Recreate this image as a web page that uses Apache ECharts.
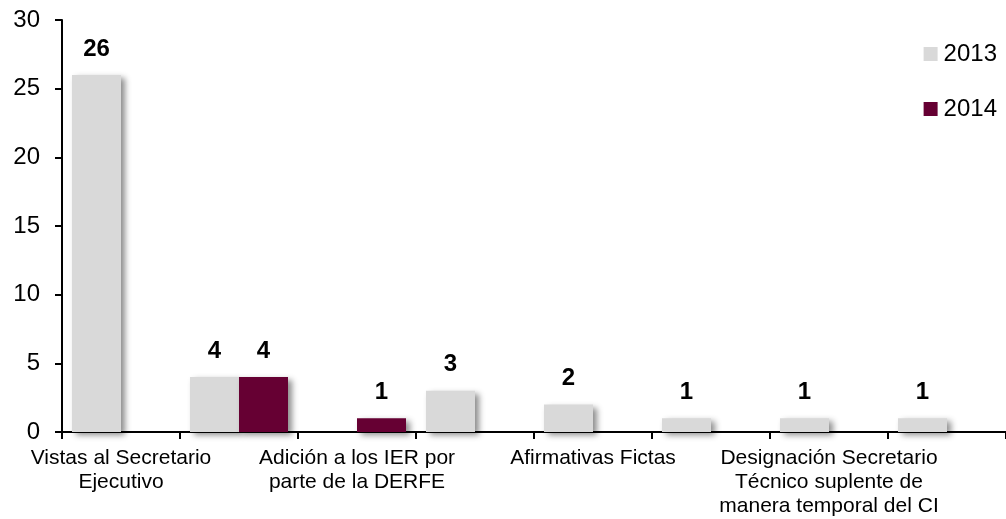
<!DOCTYPE html>
<html>
<head>
<meta charset="utf-8">
<script src="https://cdn.jsdelivr.net/npm/echarts@6/dist/echarts.min.js"></script>
<style>
html,body{margin:0;padding:0;background:#fff;}
#chart{width:1006px;height:519px;}
</style>
</head>
<body>
<div id="chart"></div>
<script>
var categories = [
  'Vistas al Secretario\nEjecutivo',
  '',
  'Adición a los IER por\nparte de la DERFE',
  '',
  'Afirmativas Fictas',
  '',
  'Designación Secretario\nTécnico suplente de\nmanera temporal del CI',
  ''
];
var seriesNames = ['2013', '2014'];
var values2013 = [26, 4, 0, 3, 2, 1, 1, 1];
var values2014 = [0, 4, 1, 0, 0, 0, 0, 0];
var yTicks = [0, 5, 10, 15, 20, 25, 30];

var FONT = 'Liberation Sans, Arial, sans-serif';
var colors = ['#D9D9D9', '#660033'];

function mkSeries(name, data, color) {
  return {
    name: name,
    type: 'bar',
    data: data,
    barWidth: 49,
    barGap: '0%',
    itemStyle: {
      color: color,
      shadowColor: 'rgba(0,0,0,0.45)',
      shadowBlur: 6,
      shadowOffsetX: 4,
      shadowOffsetY: 3
    },
    label: {
      show: true,
      position: 'top',
      distance: 14,
      fontFamily: FONT,
      fontSize: 24,
      fontWeight: 'bold',
      color: '#000',
      formatter: function (p) { return p.value === 0 ? '' : String(p.value); }
    }
  };
}

var chart = echarts.init(document.getElementById('chart'), null, {renderer: 'canvas'});
chart.setOption({
  animation: false,
  backgroundColor: '#fff',
  textStyle: {fontFamily: FONT},
  grid: {left: 62, right: -5, top: 20, bottom: 87, containLabel: false},
  legend: {
    orient: 'vertical',
    right: 4,
    top: 37,
    itemWidth: 14,
    itemHeight: 14,
    itemGap: 31,
    icon: 'rect',
    textStyle: {fontFamily: FONT, fontSize: 24, color: '#000', padding: [0,0,0,1]},
    data: seriesNames
  },
  xAxis: {
    type: 'category',
    data: categories,
    axisLine: {show: true, lineStyle: {color: '#000', width: 2}},
    axisTick: {show: true, interval: 0, length: 7, alignWithLabel: false, lineStyle: {color: '#000', width: 2}},
    axisLabel: {interval: 1, margin: 14, fontFamily: FONT, fontSize: 21, lineHeight: 24, color: '#000'},
    splitLine: {show: false}
  },
  yAxis: {
    type: 'value',
    min: yTicks[0],
    max: yTicks[yTicks.length - 1],
    interval: 5,
    axisLine: {show: true, lineStyle: {color: '#000', width: 2}},
    axisTick: {show: true, length: 7, lineStyle: {color: '#000', width: 2}},
    axisLabel: {margin: 22, fontFamily: FONT, fontSize: 24, color: '#000'},
    splitLine: {show: false}
  },
  series: [
    mkSeries(seriesNames[0], values2013, colors[0]),
    mkSeries(seriesNames[1], values2014, colors[1])
  ]
});
</script>
</body>
</html>
